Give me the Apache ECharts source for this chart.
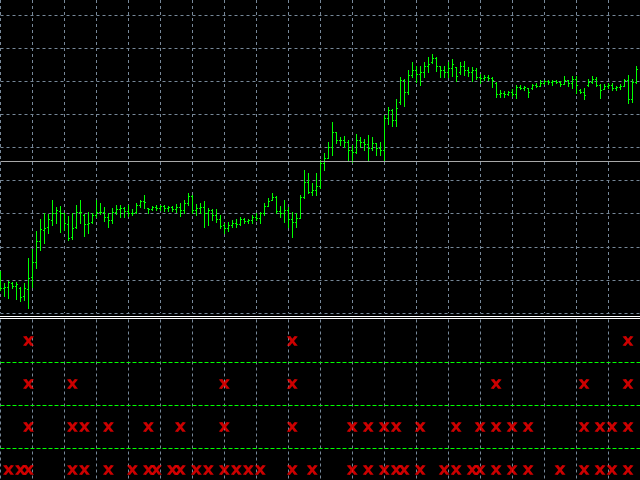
<!DOCTYPE html>
<html>
<head>
<meta charset="utf-8">
<script src="https://cdn.jsdelivr.net/npm/echarts@6/dist/echarts.min.js"></script>
<style>
html,body{margin:0;padding:0;background:#000;}
#c{width:640px;height:480px;}
</style>
</head>
<body>
<div id="c"></div>
<script>
// Price values in points (axis 0..298, one grid step = 298/9 points)
const highs = [
42,30,32,31,31,26,30,55,64,82,
94,100,99,113,106,107,100,97,100,108,
113,99,101,100,113,110,106,100,105,108,
108,106,108,104,110,113,118,105,107,108,
108,108,107,107,109,110,113,120,118,109,
110,112,105,104,104,98,90,91,93,94,
96,95,94,98,100,101,110,115,120,117,
107,113,106,101,100,118,143,140,130,140,
153,160,171,191,181,176,177,173,168,179,
176,174,178,176,170,171,198,206,204,214,
236,234,243,251,247,247,251,256,259,256,
247,247,251,254,246,251,252,246,246,245,
239,238,238,236,231,223,222,222,224,228,
228,227,225,229,230,233,233,233,233,233,
232,237,233,237,237,224,225,234,237,236,
229,229,230,230,227,229,234,238,234,247];
const lows = [
23,17,15,25,14,12,13,5,26,45,
63,70,80,88,90,81,83,73,74,85,
90,77,80,90,96,99,92,86,90,99,
96,96,97,98,100,106,105,100,103,103,
103,102,102,102,101,97,100,108,100,98,
100,86,88,93,91,85,80,82,86,86,
88,90,90,90,93,90,98,107,113,100,
96,91,86,76,86,95,115,120,118,118,
125,143,155,158,170,168,166,153,151,160,
166,163,153,163,158,158,153,189,187,187,
209,207,219,236,231,228,236,241,250,242,
236,236,236,237,232,239,238,237,232,234,
230,233,233,226,216,216,216,218,217,215,
224,223,216,224,226,227,229,229,228,230,
227,229,227,225,220,220,214,227,230,227,
215,224,225,223,223,224,227,210,211,230];
const opens = [
31,25,26,30,27,25,17,24,36,51,
72,83,86,93,100,102,100,89,76,86,
101,98,89,91,98,101,101,96,93,101,
104,105,102,100,101,108,112,105,104,106,
105,107,105,106,104,106,103,110,117,103,
105,106,100,103,98,94,88,85,88,90,
89,94,92,93,96,95,100,107,113,116,
102,100,103,94,91,95,116,131,121,123,
127,150,155,166,181,173,173,171,163,161,
173,171,169,165,170,165,163,195,203,193,
211,233,221,238,243,239,241,247,251,255,
247,243,241,245,246,241,247,243,241,243,
236,235,236,235,230,219,220,219,221,219,
226,225,225,225,228,227,230,232,231,232,
231,229,233,230,234,223,221,228,231,234,
228,224,227,228,225,226,227,233,214,231];
const closes = [
25,26,31,27,29,16,25,35,51,72,
84,85,94,100,103,100,90,75,85,101,
101,89,90,98,101,101,96,93,101,104,
105,102,100,100,108,112,111,104,106,105,
107,105,106,104,106,103,110,117,103,105,
106,100,103,98,94,87,85,88,90,89,
94,92,93,96,95,100,107,112,116,102,
100,103,94,91,95,116,131,121,123,127,
150,155,166,181,173,173,171,163,161,173,
171,169,165,170,165,163,195,203,193,205,
233,221,238,243,239,241,247,249,255,247,
243,241,245,249,237,247,243,241,243,236,
235,236,235,233,219,220,219,221,219,226,
225,226,221,228,227,230,232,231,232,231,
229,233,230,234,228,221,218,231,234,228,
223,227,228,225,226,227,233,214,231,244];
const levelLine = 151.5;

// Indicator signals: bar indices per level (1 = bottom row ... 4 = top row)
const level1 = [2,5,7,18,21,27,33,37,39,43,45,49,52,56,59,62,65,73,78,88,92,96,99,101,105,111,114,118,120,124,128,132,140,146,150,153,157];
const level2 = [7,18,21,27,37,45,56,73,88,92,96,99,105,114,120,124,128,132,146,150,153,157];
const level3 = [7,18,56,73,124,146,157];
const level4 = [7,73,157];
const levelBands = [1.5, 2.5, 3.5];

const barCount = opens.length;
const ohlc = opens.map((o, i) => [i, o, highs[i], lows[i], closes[i]]);
const signals = [];
[level1, level2, level3, level4].forEach((arr, r) => arr.forEach(k => signals.push([k, r + 1])));

const GRID_COLOR = '#778899';
const BAR_COLOR = '#00ff00';

// lower pane layout: 43 px per level, top level centred 21.5 px below pane top
const LOW_TOP = 319.5, LOW_H = 480 - 319.5, LOW_STEP = 43;
const lowMax = 4.5, lowMin = lowMax - LOW_H / LOW_STEP;

const chart = echarts.init(document.getElementById('c'), null, {renderer: 'canvas'});

function renderBar(params, api) {
  const k = api.value(0);
  const ph = api.coord([k, api.value(2)]);
  const pl = api.coord([k, api.value(3)]);
  const po = api.coord([k, api.value(1)]);
  const pc = api.coord([k, api.value(4)]);
  const x = Math.floor(ph[0]);
  const yh = Math.round(ph[1]), yl = Math.round(pl[1]);
  const yo = Math.round(po[1]), yc = Math.round(pc[1]);
  const st = {fill: BAR_COLOR};
  return {
    type: 'group',
    children: [
      {type: 'rect', shape: {x: x, y: yh, width: 1, height: yl - yh + 1}, style: st},
      {type: 'rect', shape: {x: x - 1, y: yo, width: 1, height: 1}, style: st},
      {type: 'rect', shape: {x: x + 1, y: yc, width: 1, height: 1}, style: st}
    ]
  };
}

const xPath = 'path://M0,0.5 L3.2,0 L5,2.6 L7.2,0 L10,0.5 L6.6,4.6 L10,9 L6.8,9 L5,6.5 L2.8,9.2 L0,8.8 L3.4,4.5 Z';

const option = {
  backgroundColor: '#000000',
  animation: false,
  grid: [
    {left: 0.5, width: 640, top: 15, height: 298, containLabel: false},
    {left: 0.5, width: 640, top: 0, height: 313, containLabel: false},
    {left: 0.5, width: 640, top: LOW_TOP, height: LOW_H, containLabel: false}
  ],
  xAxis: [
    {type: 'value', gridIndex: 0, min: 0, max: barCount, interval: 8, show: true,
     axisLine: {show: false}, axisTick: {show: false}, axisLabel: {show: false}, splitLine: {show: false}},
    {type: 'value', gridIndex: 1, min: 0, max: barCount, interval: 8,
     axisLine: {show: false}, axisTick: {show: false}, axisLabel: {show: false},
     splitLine: {show: true, lineStyle: {color: GRID_COLOR, type: [3, 3], width: 1}}},
    {type: 'value', gridIndex: 2, min: 0, max: barCount, interval: 8,
     axisLine: {show: false}, axisTick: {show: false}, axisLabel: {show: false},
     splitLine: {show: true, lineStyle: {color: GRID_COLOR, type: [3, 3], width: 1}}}
  ],
  yAxis: [
    {type: 'value', gridIndex: 0, min: 0, max: 298, interval: 298 / 9,
     axisLine: {show: false}, axisTick: {show: false}, axisLabel: {show: false},
     splitLine: {show: true, lineStyle: {color: GRID_COLOR, type: [3, 3], width: 1}}},
    {type: 'value', gridIndex: 1, min: 0, max: 1, show: false, splitLine: {show: false}},
    {type: 'value', gridIndex: 2, min: lowMin, max: lowMax,
     axisLine: {show: false}, axisTick: {show: false}, axisLabel: {show: false}, splitLine: {show: false}}
  ],
  series: [
    {
      type: 'custom', xAxisIndex: 0, yAxisIndex: 0,
      renderItem: renderBar,
      encode: {x: 0, y: [1, 2, 3, 4]},
      data: ohlc,
      clip: false,
      silent: true,
      z: 3,
      markLine: {
        silent: true, symbol: ['none', 'none'],
        label: {show: false},
        lineStyle: {color: '#a8a8a8', type: 'solid', width: 1},
        data: [{yAxis: levelLine}]
      }
    },
    {
      type: 'scatter', xAxisIndex: 2, yAxisIndex: 2,
      data: signals,
      symbol: xPath,
      symbolSize: [11, 10],
      itemStyle: {color: '#ff0000'},
      silent: true,
      z: 3,
      markLine: {
        silent: true, symbol: ['none', 'none'],
        label: {show: false},
        lineStyle: {color: '#00ff00', type: [4, 2], width: 1},
        data: levelBands.map(v => ({yAxis: v}))
      }
    }
  ],
  graphic: [
    {type: 'line', shape: {x1: 0, y1: 316.5, x2: 640, y2: 316.5}, style: {stroke: '#ffffff', lineWidth: 1}, z: 10},
    {type: 'line', shape: {x1: 0, y1: 318.5, x2: 640, y2: 318.5}, style: {stroke: '#ffffff', lineWidth: 1}, z: 10}
  ]
};
chart.setOption(option);
</script>
</body>
</html>
